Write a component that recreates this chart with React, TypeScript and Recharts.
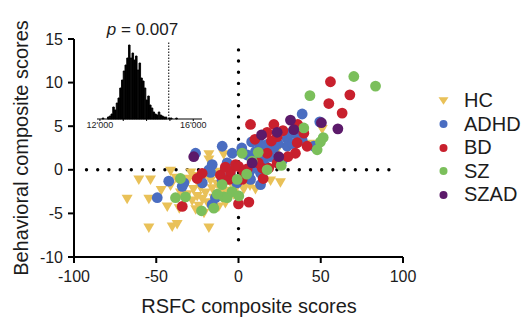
import { ScatterChart, Scatter, XAxis, YAxis, ReferenceLine, BarChart, Bar } from 'recharts'

// group scores, [RSFC, behavioral]
const hcPoints: [number, number][] = [
  [-67.7, -3.4], [-60.6, -1.2], [-53.5, -1.2], [-54.5, -3.4], [-54.5, -6.7], [-47, -2.4],
  [-43.3, -4.3], [-41.3, -0.2], [-41.3, -1.9], [-40.3, -6.6], [-37.3, -6.3], [-35.3, -2.7],
  [-33, -1.8], [-31.2, -2.9], [-30.2, -1.1], [-28.2, -3.6], [-27.4, -2.3], [-26, -0.8],
  [-25.1, -3.1], [-24.1, -4.2], [-23.1, -2.1], [-21, -0.9], [-20.1, -2.7], [-19, -3.8],
  [-18, 1.7], [-18, 1.1], [-18, -6.7], [-17, -1.3], [-15, -3.3], [-13, -1.7], [-11, -0.5],
  [-10, -2.7], [-9, 1.7], [-8, -3.9], [-6.9, -2.5], [-4.9, -1.5], [-3, -2.9], [0.5, -1.2],
  [3.2, -2.3], [4.3, -1.7], [7, -1.9], [10.3, -2.3], [19.5, -1.3], [21, 3.3], [23.5, 2.2],
  [25.5, -1.5], [44, 2.9], [50.9, 4.6], [-36, -4.5], [-29, -0.4], [-22, -3.4], [-16, -2.2],
  [-12, -4.3], [-7, -1.2], [-1.5, -2.2], [-21, -5], [-26, -4.6], [-14, -0.3], [-38, -1],
]
const adhdPoints: [number, number][] = [
  [-49.4, -3.2], [-42.4, -1.3], [-34.2, -1.9], [-33.2, -1.5], [-26.1, 1.9], [-18, 0],
  [-16, 0.6], [-17, -0.3], [-16, -4.0], [-14, -3.2], [-9.9, 2.7], [-6.9, 0.8], [-4.9, -0.6],
  [-3.8, 1.9], [-1, -1.5], [5.3, 1.7], [6.3, -0.4], [7.3, -1.1], [9, 0.2], [10.3, 2.1],
  [11.3, 1.5], [12.4, 3.1], [13.4, -1.7], [13.4, -0.4], [14.4, 1.3], [15.4, 2.7], [17.4, 2.9],
  [19.5, 1.5], [21.5, 2.5], [29.6, 3.6], [29.6, 2.7], [31.6, 4.2], [35.7, 4.0], [38.7, 3.4],
  [38.7, 6.4], [45.8, 2.7], [49.4, 5.5], [2, 2.5], [8, 3.2], [16, 0.5], [24, 3], [27, 1.2],
  [-22, -1.5], [-10, -1.2], [3, -0.8], [33, 3],
]
const bdPoints: [number, number][] = [
  [-34.2, -4.2], [-25.1, -1.0], [-22.1, -0.4], [-11, -0.6], [-5.9, -1.1], [-4.9, -0.2],
  [-1.8, 0.6], [0, 0.4], [0, -3.9], [2.2, -1.1], [3.2, -0.2], [5.3, 0.1], [6.3, -3.7],
  [7.3, 5.2], [14.4, 0.2], [17.4, 1.9], [17.4, 4.3], [18.4, 0.2], [21.5, 5.2], [23.5, 3.8],
  [23.5, 0.8], [34.6, 1.9], [35.7, 3.1], [39.7, 4.2], [41.7, 2.7], [54.9, 7.6], [55.9, 10.1],
  [63, 6.5], [67.7, 8.6], [10, 3.5], [12, 0.8], [20, 3.3], [27, 4.5], [30, 1.5], [-8, 0.3],
  [15, -1], [36, 5.2],
]
const szPoints: [number, number][] = [
  [-38.3, -3.2], [-35.3, -1.0], [-32.2, -3.1], [-22.5, -4.7], [-15, -4.4], [-10, -1.7],
  [-8.9, -3.1], [-6.9, -3.2], [-3.9, -2.5], [-0.8, -1.1], [0.2, -3.0], [2.2, 1.9], [8.3, 1.0],
  [17.4, 0], [39.7, 4.8], [43.4, 8.5], [47.8, 2.3], [49.8, 3.2], [51.5, 3.7], [70.1, 10.7],
  [83.3, 9.6], [5, -0.5], [-13, -2.8], [12, 2], [26, 0.5],
]
const szadPoints: [number, number][] = [
  [-27.2, 1.5], [8.3, 0.8], [23.5, 4.3], [24.5, 1.5], [31.6, 5.7], [33.6, 4.6], [50.4, 5.4],
  [60.4, 4.7], [14, 4],
]

// permutation null distribution (inset): bin centres and counts
const histBins = [
  11912, 11987, 12062, 12137, 12212, 12287, 12362, 12437, 12512, 12587, 12662, 12737,
  12812, 12887, 12962, 13037, 13112, 13187, 13262, 13337, 13412, 13487, 13562, 13637,
  13712, 13787, 13862, 13937, 14012, 14087, 14162, 14237, 14312, 14387, 14462, 14537,
  14612, 14687, 14762, 14837, 14912, 14987, 15062, 15137, 15212, 15287, 15362, 15437,
]
const histCounts = [
  0, 0, 0, 1, 0, 0, 2, 3, 5, 12, 9, 16,
  21, 31, 39, 48, 54, 61, 74, 61, 66, 59, 63, 49,
  56, 41, 38, 31, 19, 23, 14, 11, 7, 5, 4, 7,
  4, 3, 2, 2, 0, 1, 1, 0, 0, 1, 0, 0,
]
const observedValue = 14950
const pValue = '0.007'

const xTicks = [-100, -50, 0, 50, 100]
const yTicks = [-10, -5, 0, 5, 10, 15]
const histTicks = [12000, 13000, 14000, 15000, 16000]

const groups = [
  { name: 'HC', color: '#E9C158', points: hcPoints, triangle: true },
  { name: 'ADHD', color: '#4A6DC1', points: adhdPoints, triangle: false },
  { name: 'BD', color: '#C8202D', points: bdPoints, triangle: false },
  { name: 'SZ', color: '#7BBF5B', points: szPoints, triangle: false },
  { name: 'SZAD', color: '#5C1A6A', points: szadPoints, triangle: false },
]

const font = '"Liberation Sans", Arial, Helvetica, sans-serif'
const ink = '#1c1c1c'

const triPath = (cx: number, cy: number, w: number, h: number) =>
  `M${cx - w / 2},${cy - h / 2}L${cx + w / 2},${cy - h / 2}L${cx},${cy + h / 2}Z`

const histData = histBins.map((b, i) => ({ bin: b, count: histCounts[i] }))

const XTitle = () => (
  <text x={249} y={313} textAnchor="middle" fontSize={20} fontFamily={font} fill={ink}>
    RSFC composite scores
  </text>
)

const YTitle = () => (
  <text x={28} y={148} transform="rotate(-90 28 148)" textAnchor="middle" fontSize={20} fontFamily={font} fill={ink}>
    Behavioral composite scores
  </text>
)

export default function App() {
  return (
    <div style={{ position: 'absolute', left: 0, top: 0, width: 522, height: 320, background: '#fff' }}>
      <ScatterChart width={522} height={320} margin={{ top: 39, right: 119, bottom: 3, left: 0 }}>
        <XAxis
          type="number"
          dataKey="x"
          domain={[-100, 100]}
          ticks={xTicks}
          height={60}
          tickSize={6}
          tickMargin={8}
          axisLine={{ stroke: '#000', strokeWidth: 2 }}
          tickLine={{ stroke: '#000', strokeWidth: 2 }}
          tick={{ fontSize: 16, fill: ink, fontFamily: font }}
          label={XTitle}
        />
        <YAxis
          type="number"
          dataKey="y"
          domain={[-10, 15]}
          ticks={yTicks}
          width={74}
          tickSize={6}
          tickMargin={5}
          axisLine={{ stroke: '#000', strokeWidth: 2 }}
          tickLine={{ stroke: '#000', strokeWidth: 2 }}
          tick={{ fontSize: 16, fill: ink, fontFamily: font }}
          label={YTitle}
        />

        {/* dotted zero lines */}
        <ReferenceLine
          segment={[{ x: -92.4, y: 0 }, { x: 98.2, y: 0 }]}
          stroke="#000"
          strokeWidth={3.4}
          strokeDasharray="0 11.2"
          strokeLinecap="round"
        />
        <ReferenceLine
          segment={[{ x: 0, y: 13.75 }, { x: 0, y: -9.28 }]}
          stroke="#000"
          strokeWidth={3.4}
          strokeDasharray="0 11.17"
          strokeLinecap="round"
        />

        {groups.map((g) => (
          <Scatter
            key={g.name}
            name={g.name}
            data={g.points.map(([x, y]) => ({ x, y }))}
            isAnimationActive={false}
            shape={(p: any) =>
              g.triangle ? (
                <path d={triPath(p.cx, p.cy, 11, 9.5)} fill={g.color} />
              ) : (
                <circle cx={p.cx} cy={p.cy} r={5.4} fill={g.color} />
              )
            }
          />
        ))}
      </ScatterChart>

      {/* inset: null distribution */}
      <div style={{ position: 'absolute', left: 82, top: 39 }}>
        <BarChart
          width={135}
          height={100}
          data={histData}
          margin={{ top: 0, right: 15, bottom: 0, left: 15 }}
        >
          <XAxis
            dataKey="bin"
            type="number"
            domain={[11875, 16375]}
            ticks={histTicks}
            height={20}
            tickSize={2}
            tickMargin={1}
            axisLine={{ stroke: '#000', strokeWidth: 1 }}
            tickLine={{ stroke: '#000', strokeWidth: 1 }}
            tick={{ fontSize: 9, fill: ink, fontFamily: font }}
            tickFormatter={(v: number) => (v === 12000 ? "12'000" : v === 16000 ? "16'000" : '')}
          />
          <YAxis domain={[0, 80]} hide />
          <Bar dataKey="count" fill="#000" stroke="#000" strokeWidth={0.9} barSize={2} isAnimationActive={false} />
          <ReferenceLine
            segment={[{ x: observedValue, y: 0 }, { x: observedValue, y: 77 }]}
            stroke="#000"
            strokeWidth={1}
            strokeDasharray="1.5 1.5"
          />
        </BarChart>
      </div>

      <svg width={522} height={320} style={{ position: 'absolute', left: 0, top: 0, pointerEvents: 'none' }}>
        <text x={142.5} y={35} textAnchor="middle" fontSize={17} fontFamily={font} fill={ink}>
          <tspan fontStyle="italic">p</tspan> = {pValue}
        </text>
      </svg>

      {/* legend */}
      <div style={{ position: 'absolute', left: 436, top: 89, fontFamily: font, fontSize: 20, color: ink }}>
        {groups.map((g) => (
          <div key={g.name} style={{ display: 'flex', alignItems: 'center', height: 23.5 }}>
            <svg width={15} height={14} style={{ marginRight: 13 }}>
              {g.triangle ? (
                <path d={triPath(7.5, 7, 10, 7.5)} fill={g.color} />
              ) : (
                <circle cx={7.5} cy={7} r={4} fill={g.color} />
              )}
            </svg>
            <span>{g.name}</span>
          </div>
        ))}
      </div>
    </div>
  )
}
